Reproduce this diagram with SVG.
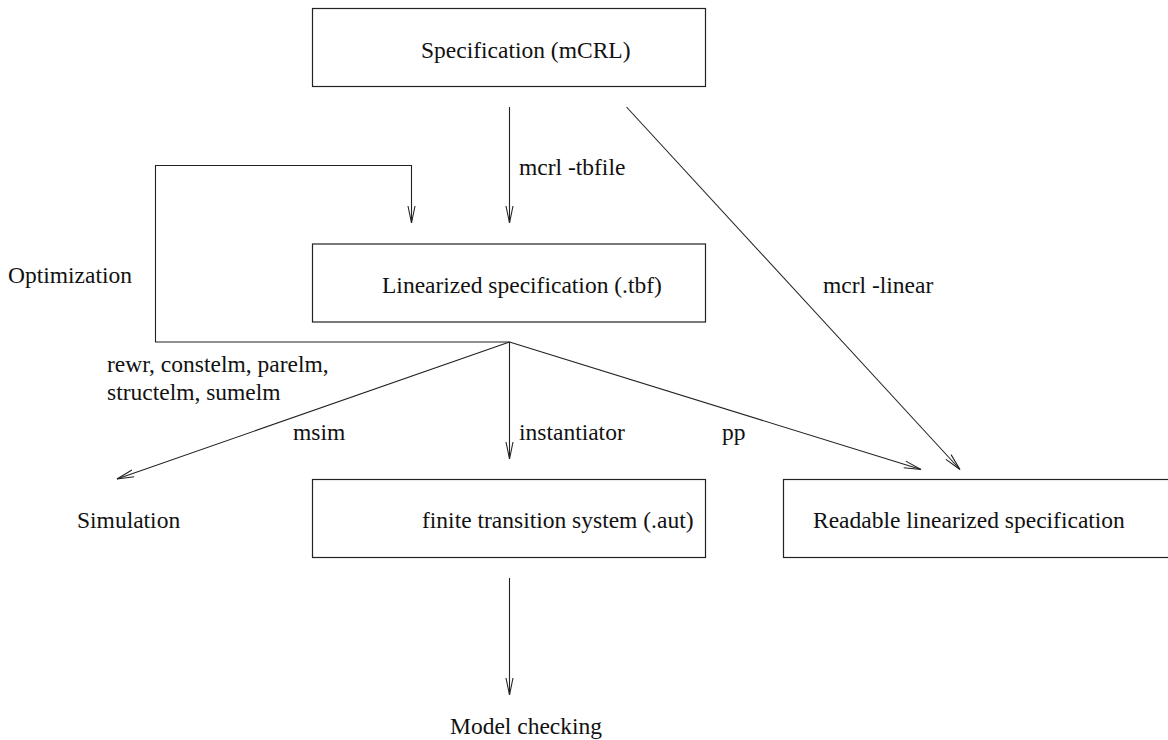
<svg xmlns="http://www.w3.org/2000/svg" width="1168" height="740" viewBox="0 0 1168 740">
<style>
.box{fill:#fff;stroke:#222;stroke-width:1.2}
.t{font-size:23.5px;fill:#111}
.c{fill:none;stroke:#222;stroke-width:1.1}
</style>
<defs>
<marker id="v" markerUnits="userSpaceOnUse" markerWidth="20" markerHeight="10" viewBox="-18 -5 19 10" refX="0" refY="0" orient="auto">
<path d="M-17,-3.5 L0,0 L-17,3.5" fill="none" stroke="#222" stroke-width="1.1"/>
</marker>
</defs>
<rect width="1168" height="740" fill="#fff"/>
<g font-family="'Liberation Serif', 'DejaVu Serif', serif">
<g id="connectors">
<line class="c" x1="509.5" y1="107" x2="509.5" y2="223" marker-end="url(#v)"/>
<polyline class="c" points="509.5,342 155.5,342 155.5,165.5 411.5,165.5 411.5,223" marker-end="url(#v)"/>
<line class="c" x1="509.5" y1="342" x2="117" y2="479" marker-end="url(#v)"/>
<line class="c" x1="509.5" y1="342" x2="509.5" y2="459" marker-end="url(#v)"/>
<line class="c" x1="509.5" y1="342" x2="921" y2="469.5" marker-end="url(#v)"/>
<line class="c" x1="626.5" y1="107" x2="960" y2="469.5" marker-end="url(#v)"/>
<line class="c" x1="509.5" y1="578" x2="509.5" y2="695" marker-end="url(#v)"/>
<text class="t" x="519" y="175">mcrl -tbfile</text>
<text class="t" x="823" y="293">mcrl -linear</text>
<text class="t" x="107" y="372">rewr, constelm, parelm,</text>
<text class="t" x="107" y="400">structelm, sumelm</text>
<text class="t" x="293" y="440">msim</text>
<text class="t" x="519" y="440">instantiator</text>
<text class="t" x="722" y="440">pp</text>
</g>
<g id="spec">
<rect class="box" x="312.5" y="8.5" width="393" height="78"/>
<text class="t" x="421" y="58">Specification (mCRL)</text>
</g>
<g id="linearized">
<rect class="box" x="312.5" y="244" width="393" height="78"/>
<text class="t" x="382" y="293">Linearized specification (.tbf)</text>
</g>
<g id="optimization">
<text class="t" x="8" y="283">Optimization</text>
</g>
<g id="simulation">
<text class="t" x="77" y="528">Simulation</text>
</g>
<g id="fts">
<rect class="box" x="312.5" y="479.5" width="393" height="78"/>
<text class="t" x="422" y="528">finite transition system (.aut)</text>
</g>
<g id="readable">
<rect class="box" x="783.5" y="479.5" width="400" height="78"/>
<text class="t" x="813" y="528">Readable linearized specification</text>
</g>
<g id="modelchecking">
<text class="t" x="450" y="734">Model checking</text>
</g>
</g>
</svg>
